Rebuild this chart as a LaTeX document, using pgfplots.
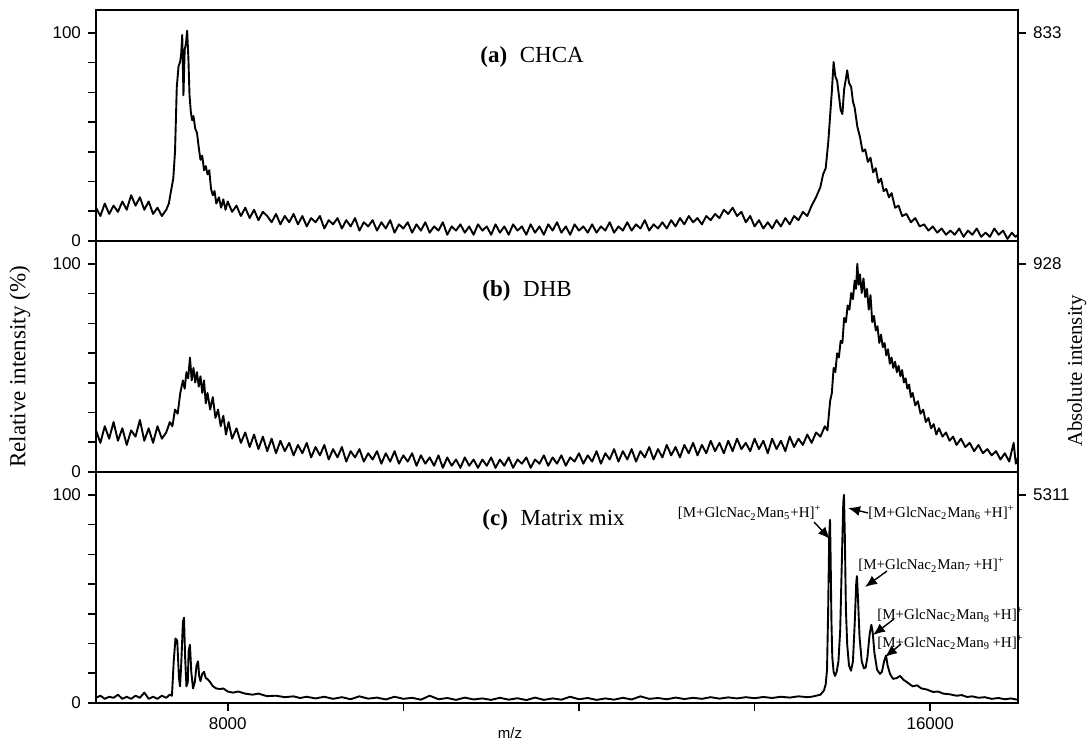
\documentclass[border=0pt]{standalone}
\usepackage{fontspec}
\setmainfont{Liberation Serif}
\setsansfont{Liberation Sans}
\usepackage{pgfplots}
\usepackage{pgfplotstable}
\pgfplotsset{compat=1.18}
\usetikzlibrary{arrows.meta}

\pgfplotstableread{
x y
6500 16
6550 12
6600 18
6650 13
6700 17
6750 14
6800 19
6850 15
6900 22
6950 17
7000 21
7050 15
7100 19
7150 13
7200 16
7250 12
7300 15
7330 18
7350 23
7380 30
7400 43
7420 74
7440 84
7458 86
7470 90
7482 99
7496 70
7510 92
7525 95
7538 101
7552 88
7565 70
7580 62
7595 58
7610 60
7630 54
7650 52
7670 45
7690 39
7710 41
7730 34
7750 36
7770 32
7790 34
7810 25
7830 22
7850 24
7870 18
7900 21
7925 16
7950 20
7975 15
8000 19
8050 14
8100 17
8150 12
8200 16
8250 11
8300 15
8350 10
8400 14
8450 12
8500 9
8550 13
8600 8
8650 12
8700 9
8750 13
8800 8
8850 12
8900 7
8950 11
9000 9
9050 12
9100 6
9150 10
9200 8
9250 11
9300 6
9350 10
9400 7
9450 11
9500 5
9550 9
9600 7
9650 10
9700 5
9750 9
9800 6
9850 10
9900 4
9950 8
10000 6
10050 9
10100 4
10150 8
10200 5
10250 9
10300 4
10350 7
10400 5
10450 9
10500 3
10550 7
10600 5
10650 8
10700 4
10750 7
10800 3
10850 8
10900 5
10950 7
11000 3
11050 8
11100 4
11150 7
11200 3
11250 8
11300 5
11350 7
11400 3
11450 8
11500 4
11550 7
11600 3
11650 8
11700 5
11750 9
11800 4
11850 7
11900 3
11950 8
12000 5
12050 7
12100 4
12150 8
12200 4
12250 7
12300 5
12350 9
12400 4
12450 7
12500 5
12550 9
12600 5
12650 8
12700 6
12750 10
12800 5
12850 8
12900 6
12950 9
13000 6
13050 10
13100 7
13150 11
13200 8
13250 12
13300 9
13350 11
13400 8
13450 12
13500 10
13550 13
13600 11
13650 15
13700 13
13750 16
13800 12
13850 14
13900 9
13950 12
14000 7
14050 10
14100 6
14150 9
14200 6
14250 10
14300 7
14350 11
14400 8
14450 12
14500 10
14550 14
14600 12
14650 17
14700 21
14750 26
14780 32
14810 35
14840 48
14860 60
14880 72
14900 86
14920 79
14940 77
14960 70
14980 63
15000 61
15020 73
15040 78
15055 82
15075 76
15100 74
15120 67
15140 64
15170 55
15200 50
15230 43
15260 44
15290 38
15320 40
15350 33
15380 35
15410 28
15440 30
15470 24
15500 25
15530 21
15560 23
15600 16
15640 17
15680 12
15730 13
15780 9
15830 11
15880 7
15930 8
15980 5
16030 7
16080 4
16130 6
16180 3
16230 5
16280 3
16330 6
16380 2
16430 5
16480 3
16530 6
16580 2
16630 4
16680 2
16730 6
16780 3
16830 5
16880 1
16930 4
16970 2
17000 3
}\dataA

\pgfplotstableread{
x y
6500 20
6550 14
6600 22
6650 16
6700 24
6750 15
6800 21
6850 13
6900 20
6950 17
7000 25
7050 15
7100 21
7150 14
7200 22
7250 16
7300 19
7340 24
7370 22
7400 30
7430 28
7460 38
7490 44
7510 40
7530 48
7550 45
7570 55
7590 44
7610 50
7630 43
7650 48
7670 41
7690 46
7710 38
7730 44
7750 33
7770 38
7800 30
7830 36
7860 26
7890 30
7920 22
7950 27
7980 18
8010 24
8050 16
8100 21
8150 14
8200 19
8250 12
8300 18
8350 11
8400 17
8450 10
8500 16
8550 9
8600 15
8650 10
8700 14
8750 8
8800 13
8850 9
8900 14
8950 7
9000 12
9050 8
9100 13
9150 6
9200 11
9250 7
9300 12
9350 5
9400 10
9450 7
9500 11
9550 5
9600 9
9650 6
9700 10
9750 4
9800 9
9850 5
9900 10
9950 4
10000 8
10050 5
10100 9
10150 3
10200 8
10250 4
10300 7
10350 3
10400 8
10450 2
10500 7
10550 3
10600 6
10650 2
10700 7
10750 3
10800 6
10850 2
10900 6
10950 3
11000 7
11050 2
11100 6
11150 3
11200 7
11250 2
11300 6
11350 4
11400 7
11450 2
11500 6
11550 4
11600 8
11650 3
11700 7
11750 4
11800 8
11850 3
11900 7
11950 5
12000 9
12050 4
12100 8
12150 5
12200 10
12250 4
12300 9
12350 6
12400 11
12450 5
12500 10
12550 6
12600 11
12650 5
12700 10
12750 7
12800 12
12850 6
12900 11
12950 7
13000 13
13050 8
13100 12
13150 7
13200 13
13250 9
13300 14
13350 8
13400 13
13450 9
13500 15
13550 10
13600 14
13650 9
13700 15
13750 10
13800 16
13850 11
13900 14
13950 10
14000 16
14050 11
14100 15
14150 9
14200 16
14250 11
14300 15
14350 10
14400 17
14450 12
14500 16
14550 13
14600 18
14650 14
14700 19
14750 17
14800 22
14830 20
14860 34
14880 38
14900 50
14920 48
14940 57
14960 55
14980 63
15000 62
15020 74
15040 72
15060 80
15080 78
15100 86
15120 83
15140 92
15155 88
15170 100
15185 90
15200 95
15220 86
15240 93
15260 84
15280 88
15300 78
15320 85
15340 72
15360 75
15380 68
15400 70
15420 62
15440 66
15460 60
15480 62
15500 56
15520 59
15540 52
15560 55
15580 50
15600 53
15620 48
15640 51
15660 46
15680 49
15700 43
15720 45
15740 40
15760 42
15780 36
15800 38
15830 32
15860 34
15890 28
15920 30
15950 24
15980 26
16010 21
16040 23
16070 18
16100 21
16140 17
16180 19
16220 15
16260 17
16300 13
16350 16
16400 12
16450 14
16500 10
16550 13
16600 9
16650 11
16700 8
16750 10
16800 6
16850 9
16900 5
16950 14
16975 4
17000 7
}\dataB

\pgfplotstableread{
x y
6500 2.5
6550 3.5
6600 2
6650 3
6700 2.5
6750 4
6800 2
6850 3
6900 2
6950 3.5
7000 2.5
7050 5
7100 2
7150 3
7200 2
7250 3.5
7300 2.5
7340 4
7365 3.5
7385 20
7405 31
7425 30
7445 12
7457 8
7470 18
7490 39
7502 41
7515 22
7530 8
7545 10
7555 25
7570 28
7585 15
7605 7
7625 10
7645 18
7662 20
7675 13
7690 10.5
7710 14
7730 15
7750 12
7770 11.5
7800 10
7832 8
7870 7
7912 6.7
7950 7
8000 5.5
8060 5
8120 5.5
8200 4.5
8280 4
8350 4.5
8447 3.3
8550 3.5
8650 2.8
8750 3.2
8823 2.4
8900 3
9000 2.2
9100 3.0
9200 2.0
9300 2.8
9400 1.8
9500 3.2
9600 2.1
9700 2.6
9800 1.7
9900 3.0
10000 2.0
10100 2.5
10200 1.6
10300 3.5
10400 1.8
10500 2.4
10600 1.5
10700 2.6
10800 1.7
10900 2.2
11000 1.5
11100 2.5
11200 1.6
11300 2.3
11400 1.4
11500 2.6
11600 1.5
11700 2.2
11800 1.6
11900 3.0
12000 1.8
12100 2.4
12200 1.5
12300 2.2
12400 1.6
12500 2.5
12600 1.7
12700 3.2
12800 2.0
12900 2.4
13000 1.8
13100 2.6
13200 1.9
13300 2.5
13400 2.0
13500 2.8
13600 2.1
13700 2.7
13800 2.2
13900 2.8
14000 2.3
14100 2.9
14200 2.4
14300 3.0
14400 2.6
14500 3.2
14600 2.8
14650 3
14700 3.5
14750 4
14790 6
14810 9
14825 16
14838 45
14850 80
14859 88
14866 70
14875 40
14885 22
14900 15
14916 13
14935 15
14955 20
14975 35
14995 70
15010 96
15018 100
15028 80
15040 45
15055 28
15075 18
15098 15.5
15120 20
15140 38
15158 58
15166 61
15176 52
15195 32
15220 20
15245 16.7
15265 17
15285 22
15310 33
15330 37.6
15345 34
15365 24
15395 16
15428 14
15450 15
15475 20
15497 22.8
15515 18
15542 14
15577 11.6
15620 12
15656 13
15700 11
15736 10
15800 8
15850 8.5
15900 7
15960 6.5
16032 5.3
16090 5.5
16150 4.5
16220 4.2
16300 3.5
16360 3.8
16419 2.9
16480 3.2
16550 2.5
16620 2.8
16700 2
16780 2.4
16850 1.8
16920 2.2
17000 1.5
}\dataC

\pgfplotsset{
  panel/.style={
    scale only axis, width=461pt, height=115.5pt,
    xmin=6500, xmax=17000, ymin=0, ymax=111,
    anchor=south west,
    axis line style={line width=0.9pt},
    ytick={0,14.2857,28.5714,42.8571,57.1429,71.4286,85.7143,100},
    yticklabels={0,,,,,,,100},
    ytick pos=left,
    tick align=outside, major tick length=4pt,
    tick style={line width=0.8pt, black},
    yticklabel style={font=\fontsize{8.5}{10}\selectfont\sffamily},
    xticklabel style={font=\fontsize{8.5}{10}\selectfont\sffamily},
    /pgf/number format/assume math mode=true,
    scaled x ticks=false,
    xtick=\empty,
  },
  rpanel/.style={
    scale only axis, width=461pt, height=115.5pt,
    xmin=6500, xmax=17000, ymin=0, ymax=111,
    anchor=south west,
    hide x axis,
    axis y line*=right,
    axis line style={line width=0.9pt},
    ytick={100},
    tick align=outside, major tick length=4pt,
    tick style={line width=0.8pt, black},
    yticklabel style={font=\fontsize{8.5}{10}\selectfont\sffamily},
    /pgf/number format/assume math mode=true,
  },
  spec/.style={black, line width=0.95pt, line join=round, mark=none},
}

\begin{document}
\begin{tikzpicture}
\useasboundingbox (0,0) rectangle (545pt,371.5pt);

% panel (a)
\begin{axis}[panel, at={(48pt,251pt)}]
\addplot[spec] table {\dataA};
\end{axis}
\begin{axis}[rpanel, at={(48pt,251pt)}, yticklabels={833}]
\end{axis}

% panel (b)
\begin{axis}[panel, at={(48pt,135.5pt)}]
\addplot[spec] table {\dataB};
\end{axis}
\begin{axis}[rpanel, at={(48pt,135.5pt)}, yticklabels={928}]
\end{axis}

% panel (c)
\begin{axis}[panel, at={(48pt,20pt)},
  xtick={8000,10000,12000,14000,16000},
  xticklabels={8000,,,,16000},
  xtick pos=bottom]
\addplot[spec] table {\dataC};
\end{axis}
\begin{axis}[rpanel, at={(48pt,20pt)}, yticklabels={5311}]
\end{axis}

% panel titles
\node[anchor=west, inner sep=0pt, font=\fontsize{11.5}{13}\selectfont] at (240pt,343pt) {\textbf{(a)}\hspace{0.55em}CHCA};
\node[anchor=west, inner sep=0pt, font=\fontsize{11.5}{13}\selectfont] at (241pt,226pt) {\textbf{(b)}\hspace{0.55em}DHB};
\node[anchor=west, inner sep=0pt, font=\fontsize{11.5}{13}\selectfont] at (241pt,111.5pt) {\textbf{(c)}\hspace{0.55em}Matrix mix};

% axis titles
\node[rotate=90, inner sep=0pt, font=\fontsize{11.5}{13}\selectfont] at (10pt,188pt) {Relative intensity (\%)};
\node[rotate=90, inner sep=0pt, font=\fontsize{10.4}{12}\selectfont] at (538.5pt,186pt) {Absolute intensity};
\node[inner sep=0pt, font=\fontsize{7.5}{9}\selectfont\sffamily] at (255pt,5pt) {m/z};

% annotations
\begin{scope}[font=\fontsize{7.5}{9}\selectfont]
\node[anchor=east, inner sep=0pt] at (411pt,115pt) {[M+GlcNac\textsubscript{2}Man\textsubscript{5}+H]\textsuperscript{+}};
\node[anchor=west, inner sep=0pt] at (434pt,115pt) {[M+GlcNac\textsubscript{2}Man\textsubscript{6}\,+H]\textsuperscript{+}};
\node[anchor=west, inner sep=0pt] at (429pt,89pt) {[M+GlcNac\textsubscript{2}Man\textsubscript{7}\,+H]\textsuperscript{+}};
\node[anchor=west, inner sep=0pt] at (438.5pt,64pt) {[M+GlcNac\textsubscript{2}Man\textsubscript{8}\,+H]\textsuperscript{+}};
\node[anchor=west, inner sep=0pt] at (438.5pt,50pt) {[M+GlcNac\textsubscript{2}Man\textsubscript{9}\,+H]\textsuperscript{+}};
\end{scope}
\begin{scope}[line width=0.7pt, -{Latex[length=6pt,width=5pt]}]
\draw (407pt,110.5pt) -- (415pt,102pt);
\draw (434pt,115pt) -- (424pt,117.5pt);
\draw (443.5pt,86pt) -- (432.5pt,78pt);
\draw (447pt,62pt) -- (436.5pt,54pt);
\draw (450.5pt,49.5pt) -- (442.5pt,43pt);
\end{scope}
\end{tikzpicture}
\end{document}
